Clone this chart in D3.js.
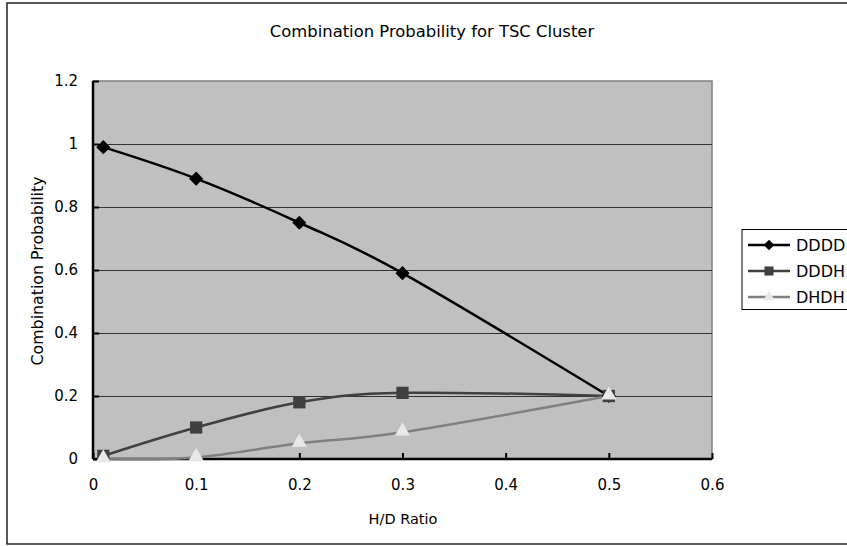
<!DOCTYPE html>
<html><head><meta charset="utf-8">
<script src="https://cdn.jsdelivr.net/npm/d3@7"></script>
<style>body{margin:0;background:#fff}svg{display:block}text{font-family:"DejaVu Sans",sans-serif;fill:#000}</style>
</head><body><svg id="c" width="847" height="546"></svg>
<script>
const xValues = [0.01, 0.1, 0.2, 0.3, 0.5];
const seriesNames = ["DDDD", "DDDH", "DHDH"];
const dddd = [0.99, 0.89, 0.75, 0.59, 0.2];
const dddh = [0.01, 0.1, 0.18, 0.21, 0.2];
const dhdh = [0.0, 0.005, 0.05, 0.085, 0.2];
const xTicks = [0, 0.1, 0.2, 0.3, 0.4, 0.5, 0.6];
const yTicks = [0, 0.2, 0.4, 0.6, 0.8, 1, 1.2];
const title = "Combination Probability for TSC Cluster";
const xTitle = "H/D Ratio";
const yTitle = "Combination Probability";

const svg = d3.select("#c");
const L = 93, R = 712, T = 81, B = 459;
const x = d3.scaleLinear().domain([0, 0.6]).range([L, R]);
const y = d3.scaleLinear().domain([0, 1.2]).range([B, T]);

// outer chart border
svg.append("rect").attr("x", 7).attr("y", 3).attr("width", 860).attr("height", 541)
  .attr("fill", "#fff").attr("stroke", "#222").attr("stroke-width", 1.5);

// plot area
svg.append("rect").attr("x", L).attr("y", T).attr("width", R - L).attr("height", B - T)
  .attr("fill", "#c0c0c0").attr("stroke", "#808080").attr("stroke-width", 1.5);

// gridlines
svg.append("g").selectAll("line").data(yTicks.filter(d => d > 0 && d < 1.2)).join("line")
  .attr("x1", L).attr("x2", R).attr("y1", d => Math.round(y(d)) + 0.5).attr("y2", d => Math.round(y(d)) + 0.5)
  .attr("stroke", "#333").attr("stroke-width", 1);

// axes
const yAxis = d3.axisLeft(y).tickValues(yTicks).tickSize(-6).tickPadding(15).tickFormat(d3.format("~g"));
const gy = svg.append("g").attr("transform", `translate(${L},0)`).call(yAxis);
const xAxis = d3.axisBottom(x).tickValues(xTicks).tickSize(-6).tickPadding(20).tickFormat(d3.format("~g"));
const gx = svg.append("g").attr("transform", `translate(0,${B})`).call(xAxis);
[gx, gy].forEach(g => {
  g.select(".domain").attr("stroke", "#000").attr("stroke-width", 2.5);
  g.selectAll(".tick line").attr("stroke", "#000").attr("stroke-width", 2);
  g.selectAll("text").style("font-size", "15px").attr("fill", "#000").attr("font-family", "DejaVu Sans");
});
gy.select(".domain").attr("d", `M0,${T}V${B}`);
gx.select(".domain").attr("d", `M${L},0H${R}`);

// titles
svg.append("text").attr("x", 432).attr("y", 37).attr("text-anchor", "middle").style("font-size", "16.4px").text(title);
svg.append("text").attr("x", 403).attr("y", 524).attr("text-anchor", "middle").style("font-size", "14.5px").text(xTitle);
svg.append("text").attr("transform", "translate(43,271) rotate(-90)").attr("text-anchor", "middle").style("font-size", "15.8px").text(yTitle);

const series = [
  {name: seriesNames[0], vals: dddd, line: "#000", fill: "#000", sym: d3.symbolSquare, size: 100, rot: 45},
  {name: seriesNames[1], vals: dddh, line: "#404040", fill: "#404040", sym: d3.symbolSquare, size: 150, rot: 0},
  {name: seriesNames[2], vals: dhdh, line: "#808080", fill: "#e8e8e8", sym: d3.symbolTriangle, size: 100, rot: 0}
];
const line = d3.line().x(d => x(d[0])).y(d => y(d[1])).curve(d3.curveCardinal.tension(0));
series.forEach(s => {
  const pts = xValues.map((v, i) => [v, s.vals[i]]);
  svg.append("path").attr("d", line(pts)).attr("fill", "none").attr("stroke", s.line).attr("stroke-width", 2.5);
});
series.forEach(s => {
  const pts = xValues.map((v, i) => [v, s.vals[i]]);
  svg.append("g").selectAll("path").data(pts).join("path")
    .attr("d", d3.symbol().type(s.sym).size(s.size))
    .attr("transform", d => `translate(${x(d[0])},${y(d[1]) + (s.sym === d3.symbolTriangle ? -1 : 0)}) rotate(${s.rot})`)
    .attr("fill", s.fill);
});

// legend
const lg = svg.append("g");
lg.append("rect").attr("x", 742).attr("y", 229.5).attr("width", 120).attr("height", 80)
  .attr("fill", "#fff").attr("stroke", "#000").attr("stroke-width", 1);
series.forEach((s, i) => {
  const cy = 245 + i * 26;
  lg.append("line").attr("x1", 748).attr("x2", 790).attr("y1", cy).attr("y2", cy).attr("stroke", s.line).attr("stroke-width", 2.5);
  lg.append("path").attr("d", d3.symbol().type(s.sym).size(s.size * 0.55))
    .attr("transform", `translate(769,${cy}) rotate(${s.rot})`).attr("fill", s.fill);
  lg.append("text").attr("x", 796).attr("y", cy + 6).style("font-size", "16px").text(s.name);
});
</script></body></html>
